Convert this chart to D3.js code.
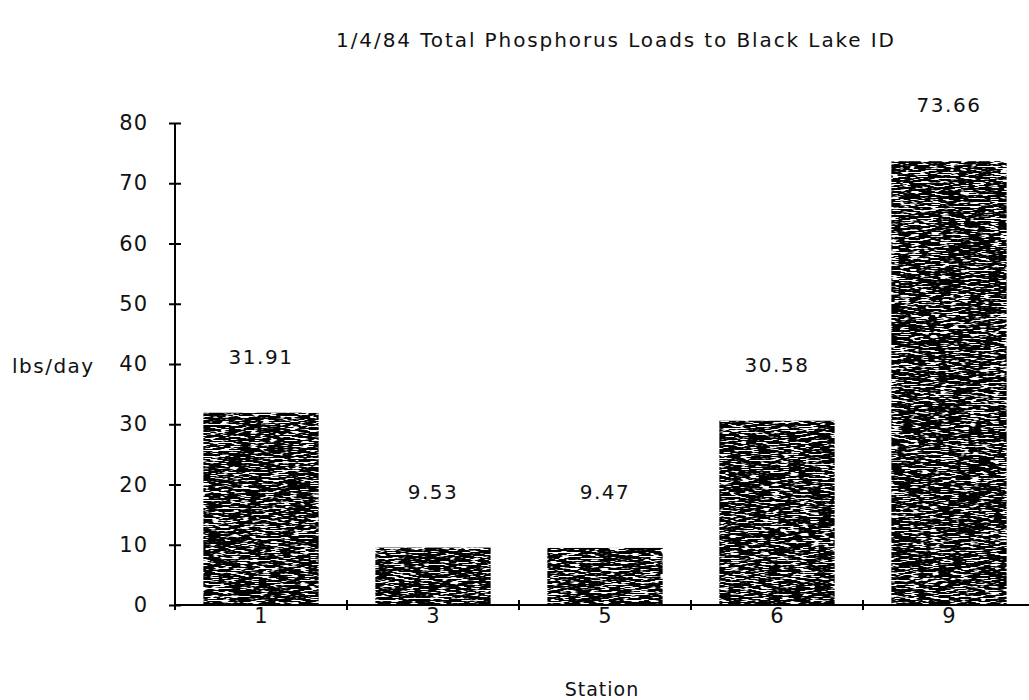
<!DOCTYPE html>
<html>
<head>
<meta charset="utf-8">
<script src="https://cdn.jsdelivr.net/npm/d3@7"></script>
<style>
  html, body { margin: 0; padding: 0; background: #fff; }
  svg { display: block; }
  text { font-family: "DejaVu Sans", sans-serif; fill: #111; }
</style>
</head>
<body>
<svg id="chart" width="1029" height="700"></svg>
<script>
// Total phosphorus loads by sampling station, 1/4/84
const stations = ["1", "3", "5", "6", "9"];
const loads = [31.91, 9.53, 9.47, 30.58, 73.66];
const loadLabels = ["31.91", "9.53", "9.47", "30.58", "73.66"];
const yTickValues = [0, 10, 20, 30, 40, 50, 60, 70, 80];

const titleText = "1/4/84 Total Phosphorus Loads to Black Lake ID";
const xTitle = "Station";
const yTitle = "lbs/day";

const svg = d3.select("#chart");

// Grainy scan-line fill for the bars: thin white horizontal streaks over black
const defs = svg.append("defs");
const f = defs.append("filter")
  .attr("id", "grain")
  .attr("x", 0).attr("y", 0).attr("width", 1).attr("height", 1)
  .attr("color-interpolation-filters", "sRGB");
f.append("feTurbulence")
  .attr("type", "fractalNoise")
  .attr("baseFrequency", "0.1 1.5")
  .attr("numOctaves", 2)
  .attr("seed", 11)
  .attr("result", "noise");
f.append("feColorMatrix")
  .attr("in", "noise")
  .attr("type", "matrix")
  .attr("values", "0 0 0 0 1  0 0 0 0 1  0 0 0 0 1  10 0 0 0 -5.2")
  .attr("result", "streaks");
f.append("feComposite")
  .attr("in", "streaks")
  .attr("in2", "SourceGraphic")
  .attr("operator", "atop");

const x = d3.scaleBand()
  .domain(stations)
  .range([175, 1035])
  .paddingInner(0.33)
  .paddingOuter(0.165);

const y = d3.scaleLinear()
  .domain([0, 80])
  .range([605, 123]);

// Bars
svg.append("g")
  .selectAll("rect")
  .data(stations)
  .join("rect")
  .attr("x", d => x(d))
  .attr("width", x.bandwidth())
  .attr("y", (d, i) => y(loads[i]))
  .attr("height", (d, i) => y(0) - y(loads[i]))
  .attr("fill", "#000")
  .attr("filter", "url(#grain)");

// Value labels above the bars
svg.append("g")
  .selectAll("text")
  .data(stations)
  .join("text")
  .attr("x", d => x(d) + x.bandwidth() / 2)
  .attr("y", (d, i) => y(loads[i]) - 49)
  .attr("text-anchor", "middle")
  .attr("font-size", 20)
  .attr("letter-spacing", 1.5)
  .text((d, i) => loadLabels[i]);

// Y axis with ticks crossing the line
const yAxis = svg.append("g")
  .attr("transform", `translate(${x.range()[0]},0)`)
  .call(d3.axisLeft(y).tickValues(yTickValues).tickSize(6).tickPadding(21));
yAxis.select(".domain").remove();
yAxis.append("line")
  .attr("x1", 0).attr("x2", 0)
  .attr("y1", y(0)).attr("y2", y(80))
  .attr("stroke", "#000").attr("stroke-width", 2);
yAxis.selectAll(".tick line")
  .attr("x1", -6).attr("x2", 6)
  .attr("stroke", "#000").attr("stroke-width", 2);
yAxis.selectAll(".tick text")
  .attr("font-family", "DejaVu Sans, sans-serif")
  .attr("font-size", 21)
  .attr("letter-spacing", 1)
  .attr("fill", "#111");

// X axis: baseline with ticks at band boundaries
const xAxis = svg.append("g");
xAxis.append("line")
  .attr("x1", x.range()[0]).attr("x2", x.range()[1])
  .attr("y1", y(0)).attr("y2", y(0))
  .attr("stroke", "#000").attr("stroke-width", 2);
const edges = d3.range(stations.length + 1).map(i => x.range()[0] + i * x.step());
xAxis.selectAll("line.edge")
  .data(edges)
  .join("line")
  .attr("class", "edge")
  .attr("x1", d => d).attr("x2", d => d)
  .attr("y1", y(0) - 5).attr("y2", y(0) + 5)
  .attr("stroke", "#000").attr("stroke-width", 2);
xAxis.selectAll("text")
  .data(stations)
  .join("text")
  .attr("x", d => x(d) + x.bandwidth() / 2)
  .attr("y", y(0) + 18)
  .attr("text-anchor", "middle")
  .attr("font-size", 21)
  .text(d => d);

// Titles
svg.append("text")
  .attr("x", 616).attr("y", 47)
  .attr("text-anchor", "middle")
  .attr("font-size", 20)
  .attr("letter-spacing", 1.9)
  .text(titleText);

svg.append("text")
  .attr("x", 602).attr("y", 696)
  .attr("text-anchor", "middle")
  .attr("font-size", 19)
  .attr("letter-spacing", 1)
  .text(xTitle);

svg.append("text")
  .attr("x", 12).attr("y", 373)
  .attr("font-size", 20)
  .attr("letter-spacing", 1.5)
  .text(yTitle);
</script>
</body>
</html>
